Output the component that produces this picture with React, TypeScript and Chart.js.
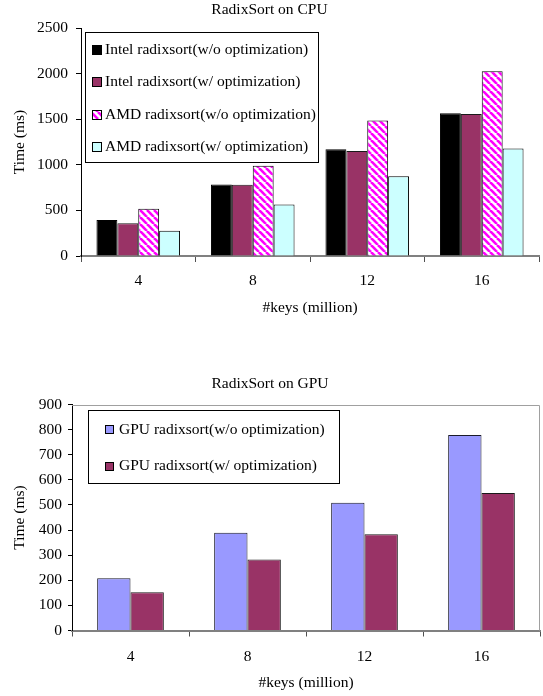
import React, { useEffect, useRef } from 'react';
import { Chart, registerables } from 'chart.js';

Chart.register(...registerables);

const FONT = '"Liberation Serif", "Times New Roman", serif';

// ---------- data ----------
const categories = ['4', '8', '12', '16'];

const cpuTitle = 'RadixSort on CPU';
const gpuTitle = 'RadixSort on GPU';
const xTitle = '#keys (million)';
const yTitle = 'Time (ms)';

const intelNoOptLabel = 'Intel radixsort(w/o optimization)';
const intelOptLabel = 'Intel radixsort(w/ optimization)';
const amdNoOptLabel = 'AMD radixsort(w/o optimization)';
const amdOptLabel = 'AMD radixsort(w/ optimization)';
const gpuNoOptLabel = 'GPU radixsort(w/o optimization)';
const gpuOptLabel = 'GPU radixsort(w/ optimization)';

const intelNoOpt = [395, 785, 1170, 1565];
const intelOpt = [360, 780, 1152, 1557];
const amdNoOpt = [517, 990, 1485, 2027];
const amdOpt = [277, 564, 875, 1179];

const gpuNoOpt = [208, 389, 509, 779];
const gpuOpt = [152, 283, 383, 548];

const cpuYMax = 2500;
const cpuYStep = 500;
const gpuYMax = 900;
const gpuYStep = 100;

// ---------- helpers ----------
function hatchPattern(): CanvasPattern | string {
  const s = 7;
  const c = document.createElement('canvas');
  c.width = s;
  c.height = s;
  const g = c.getContext('2d');
  if (!g) return '#FF00FF';
  g.fillStyle = '#FFFFFF';
  g.fillRect(0, 0, s, s);
  g.strokeStyle = '#FF00FF';
  g.lineWidth = 2.6;
  for (const x0 of [-s, 0, s]) {
    g.beginPath();
    g.moveTo(x0, 0);
    g.lineTo(x0 + s, s);
    g.stroke();
  }
  return g.createPattern(c, 'repeat') || '#FF00FF';
}

const boxLegend = {
  id: 'boxLegend',
  afterDatasetsDraw(chart: any, _args: any, opts: any) {
    if (!opts || !opts.show) return;
    const { ctx, chartArea } = chart;
    const x = Math.round(chartArea.left + opts.dx);
    const y = Math.round(chartArea.top + opts.dy);
    ctx.save();
    ctx.fillStyle = '#FFFFFF';
    ctx.fillRect(x, y, opts.w, opts.h);
    ctx.strokeStyle = '#000000';
    ctx.lineWidth = 1;
    ctx.strokeRect(x + 0.5, y + 0.5, opts.w, opts.h);
    chart.data.datasets.forEach((ds: any, i: number) => {
      const cy = y + opts.first + i * opts.gap;
      const bx = x + opts.boxX;
      const by = Math.round(cy - opts.box / 2);
      ctx.fillStyle = ds.backgroundColor;
      ctx.fillRect(bx, by, opts.box, opts.box);
      ctx.strokeStyle = '#000000';
      ctx.lineWidth = 1;
      ctx.strokeRect(bx + 0.5, by + 0.5, opts.box - 1, opts.box - 1);
      ctx.fillStyle = '#000000';
      ctx.font = `15.5px ${FONT}`;
      ctx.textBaseline = 'middle';
      ctx.textAlign = 'left';
      ctx.fillText(ds.label, x + opts.textX, cy);
    });
    ctx.restore();
  },
};

const frame = {
  id: 'frame',
  beforeDatasetsDraw(chart: any, _args: any, opts: any) {
    if (!opts || !opts.show) return;
    const { ctx, chartArea } = chart;
    ctx.save();
    ctx.strokeStyle = opts.color;
    ctx.lineWidth = 1;
    ctx.beginPath();
    const t = Math.round(chartArea.top) + 0.5;
    const r = Math.round(chartArea.right) - 0.5;
    ctx.moveTo(chartArea.left, t);
    ctx.lineTo(r, t);
    ctx.lineTo(r, chartArea.bottom);
    ctx.stroke();
    ctx.restore();
  },
};

function makeOptions(p: {
  title: string;
  titlePad: { top: number; bottom: number };
  yMax: number;
  yStep: number;
  yWidth: number;
  xHeight: number;
  rightPad: number;
  xTickPad: number;
  xTitleBottom: number;
  yTickLen: number;
  yTickPad: number;
  legend: any;
  frame: any;
}) {
  const font = { family: FONT, size: 15.5 };
  return {
    responsive: false,
    animation: false as const,
    layout: { padding: { left: 0, right: p.rightPad, top: 0, bottom: 0 } },
    plugins: {
      legend: { display: false },
      tooltip: { enabled: false },
      title: {
        display: true,
        text: p.title,
        font: { ...font, weight: 'normal' as const },
        color: '#000000',
        padding: p.titlePad,
      },
      boxLegend: p.legend,
      frame: p.frame,
    },
    scales: {
      x: {
        type: 'category' as const,
        offset: true,
        grid: {
          offset: true,
          drawOnChartArea: false,
          drawTicks: true,
          tickLength: 6,
          color: '#505050',
        },
        border: { color: '#808080', width: 2 },
        ticks: { font, color: '#000000', padding: p.xTickPad },
        title: {
          display: true,
          text: xTitle,
          font,
          color: '#000000',
          padding: { top: 0, bottom: p.xTitleBottom },
        },
        afterFit: (s: any) => {
          s.height = p.xHeight;
        },
      },
      y: {
        min: 0,
        max: p.yMax,
        ticks: {
          stepSize: p.yStep,
          font,
          color: '#000000',
          padding: p.yTickPad,
          callback: (v: any) => String(v),
        },
        grid: { drawOnChartArea: false, drawTicks: true, tickLength: p.yTickLen, color: '#000000' },
        border: { color: '#000000', width: 1 },
        title: {
          display: true,
          text: yTitle,
          font,
          color: '#000000',
          padding: { top: 11, bottom: 0 },
        },
        afterFit: (s: any) => {
          s.width = p.yWidth;
        },
      },
    },
  };
}

export default function App() {
  const cpuRef = useRef<HTMLCanvasElement>(null);
  const gpuRef = useRef<HTMLCanvasElement>(null);

  useEffect(() => {
    if (!cpuRef.current || !gpuRef.current) return;
    const hatch = hatchPattern();

    const cpu = new Chart(cpuRef.current, {
      type: 'bar',
      data: {
        labels: categories,
        datasets: [
          { label: intelNoOptLabel, data: intelNoOpt, backgroundColor: '#000000', borderColor: '#000000', borderWidth: 1 },
          { label: intelOptLabel, data: intelOpt, backgroundColor: '#993366', borderColor: '#1a1a1a', borderWidth: 1 },
          { label: amdNoOptLabel, data: amdNoOpt, backgroundColor: hatch as any, borderColor: '#000000', borderWidth: 1 },
          { label: amdOptLabel, data: amdOpt, backgroundColor: '#CCFFFF', borderColor: '#000000', borderWidth: 1 },
        ].map((d) => ({ ...d, categoryPercentage: 0.73, barPercentage: 1.0 })),
      },
      options: makeOptions({
        title: cpuTitle,
        titlePad: { top: 1, bottom: 8.4 },
        yMax: cpuYMax,
        yStep: cpuYStep,
        yWidth: 81,
        xHeight: 74,
        rightPad: 4,
        xTickPad: 10,
        xTitleBottom: 13,
        yTickLen: 5,
        yTickPad: 8,
        legend: { show: true, dx: 4, dy: 4, w: 233, h: 130, first: 17.5, gap: 32.5, box: 10, boxX: 7, textX: 20 },
        frame: { show: false },
      }) as any,
      plugins: [boxLegend, frame],
    });

    const gpu = new Chart(gpuRef.current, {
      type: 'bar',
      data: {
        labels: categories,
        datasets: [
          { label: gpuNoOptLabel, data: gpuNoOpt, backgroundColor: '#9999FF', borderColor: '#1a1a2a', borderWidth: 1 },
          { label: gpuOptLabel, data: gpuOpt, backgroundColor: '#993366', borderColor: '#1a1a1a', borderWidth: 1 },
        ].map((d) => ({ ...d, categoryPercentage: 0.57, barPercentage: 1.0 })),
      },
      options: makeOptions({
        title: gpuTitle,
        titlePad: { top: 5, bottom: 10.9 },
        yMax: gpuYMax,
        yStep: gpuYStep,
        yWidth: 72,
        xHeight: 65.5,
        rightPad: 3,
        xTickPad: 11,
        xTitleBottom: 4,
        yTickLen: 4,
        yTickPad: 6,
        legend: { show: true, dx: 16, dy: 5.5, w: 251, h: 73, first: 19.5, gap: 36.5, box: 9, boxX: 17, textX: 31 },
        frame: { show: true, color: '#A0A0A0' },
      }) as any,
      plugins: [boxLegend, frame],
    });

    return () => {
      cpu.destroy();
      gpu.destroy();
    };
  }, []);

  return (
    <div
      style={{
        position: 'fixed',
        left: 0,
        top: 0,
        width: 543,
        height: 696,
        background: '#FFFFFF',
        overflow: 'hidden',
      }}
    >
      <canvas
        ref={cpuRef}
        width={543}
        height={330}
        style={{ position: 'absolute', left: 0, top: 0, width: 543, height: 330, display: 'block' }}
      />
      <canvas
        ref={gpuRef}
        width={543}
        height={326}
        style={{ position: 'absolute', left: 0, top: 370, width: 543, height: 326, display: 'block' }}
      />
    </div>
  );
}
